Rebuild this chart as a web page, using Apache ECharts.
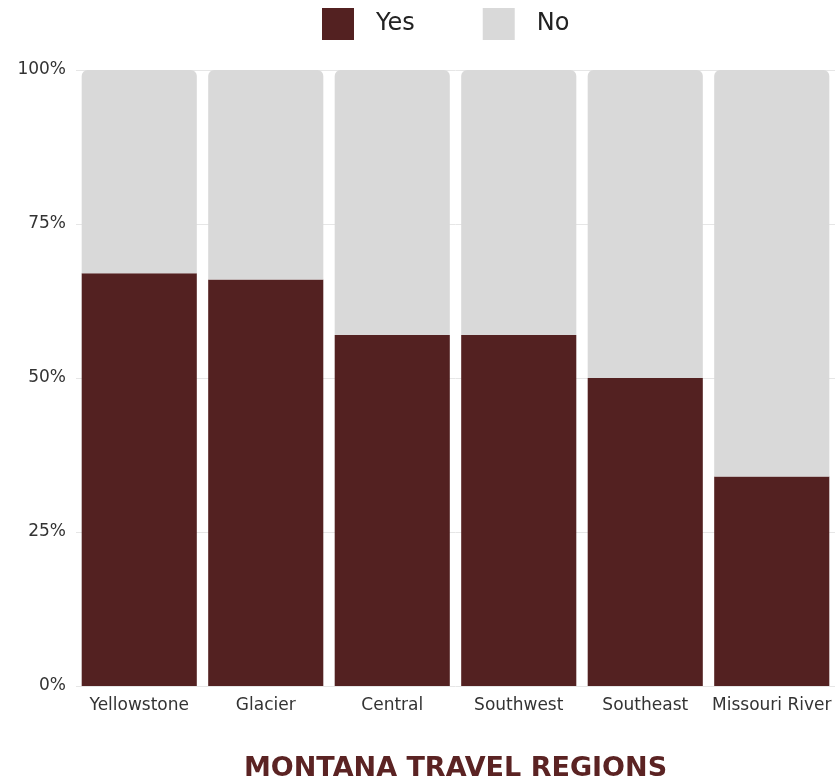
<!DOCTYPE html>
<html>
<head>
<meta charset="utf-8">
<title>Montana Travel Regions</title>
<script src="https://cdn.jsdelivr.net/npm/echarts@6/dist/echarts.min.js"></script>
<style>
  html, body { margin: 0; padding: 0; background: #ffffff; }
  #chart { width: 840px; height: 782px; }
</style>
</head>
<body>
<div id="chart"></div>
<script>
// Survey share by Montana travel region (percent answering Yes / No)
const regions = ['Yellowstone', 'Glacier', 'Central', 'Southwest', 'Southeast', 'Missouri River'];
const yesShare = [67, 66, 57, 57, 50, 34];
const noShare = [33, 34, 43, 43, 50, 66];
const yTicks = [0, 25, 50, 75, 100];

const FONT = 'DejaVu Sans';
const DARK = '#532121';
const LIGHT = '#d9d9d9';

const chart = echarts.init(document.getElementById('chart'), null, { renderer: 'canvas' });

chart.setOption({
  backgroundColor: '#ffffff',
  animation: false,
  textStyle: { fontFamily: FONT },
  legend: {
    top: 3,
    left: 317,
    itemWidth: 32,
    itemHeight: 32,
    itemGap: 68,
    icon: 'rect',
    textStyle: {
      fontFamily: FONT,
      fontSize: 24,
      color: '#222222',
      padding: [0, 0, 0, 17]
    },
    data: ['Yes', 'No']
  },
  grid: {
    left: 76,
    right: 5,
    top: 70,
    bottom: 96,
    containLabel: false,
    outerBoundsMode: 'none'
  },
  xAxis: {
    type: 'category',
    data: regions,
    axisLine: { show: false },
    axisTick: { show: false },
    axisLabel: {
      interval: 0,
      margin: 11,
      fontFamily: FONT,
      fontSize: 17,
      color: '#333333'
    },
    name: 'MONTANA TRAVEL REGIONS',
    nameLocation: 'middle',
    nameGap: 69,
    nameTextStyle: {
      fontFamily: FONT,
      fontSize: 27,
      fontWeight: 'bold',
      color: '#5b2323'
    }
  },
  yAxis: {
    type: 'value',
    min: yTicks[0],
    max: yTicks[yTicks.length - 1],
    interval: yTicks[1] - yTicks[0],
    axisLine: { show: false },
    axisTick: { show: false },
    axisLabel: {
      margin: 10,
      fontFamily: FONT,
      fontSize: 17,
      color: '#333333',
      formatter: '{value}%'
    },
    splitLine: { lineStyle: { color: '#e6e6e6', width: 1 } }
  },
  series: [
    {
      name: 'Yes',
      type: 'bar',
      stack: 'share',
      barCategoryGap: '9%',
      itemStyle: { color: DARK },
      data: yesShare
    },
    {
      name: 'No',
      type: 'bar',
      stack: 'share',
      barCategoryGap: '9%',
      itemStyle: { color: LIGHT, borderRadius: [6, 6, 0, 0] },
      data: noShare
    }
  ]
});
</script>
</body>
</html>
